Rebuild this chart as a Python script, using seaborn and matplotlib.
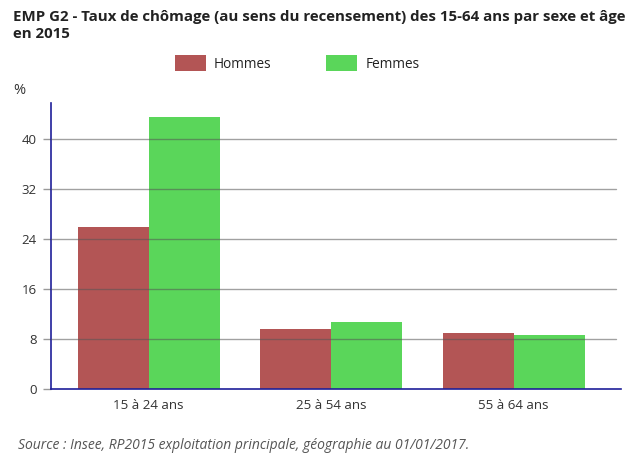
import matplotlib
matplotlib.use("Agg")
import matplotlib.pyplot as plt
import seaborn as sns
import pandas as pd

categories = ["15 à 24 ans", "25 à 54 ans", "55 à 64 ans"]
hommes = [26.0, 9.6, 9.0]
femmes = [43.6, 10.7, 8.6]
series_names = ["Hommes", "Femmes"]
yticks = [0, 8, 16, 24, 32, 40]

df = pd.DataFrame({
    "age": categories * 2,
    "sexe": [series_names[0]] * 3 + [series_names[1]] * 3,
    "taux": hommes + femmes,
})

sns.set_theme(style="white")
plt.rcParams["font.family"] = ["Open Sans", "DejaVu Sans"]

navy = "#1f1f99"
colors = {"Hommes": "#b35555", "Femmes": "#5ad65a"}

fig = plt.figure(figsize=(6.34, 4.57), dpi=100)
ax = fig.add_axes([0.08, 0.1488, 0.899, 0.6265])

sns.barplot(data=df, x="age", y="taux", hue="sexe", palette=colors,
            width=0.78, ax=ax, saturation=1, errorbar=None, zorder=2,
            linewidth=0)

ax.set_xlim(-0.537, 2.586)
ax.set_ylim(0, 45.9)
ax.set_yticks(yticks)
ax.set_yticklabels([str(v) for v in yticks], fontsize=9.5, color="#333333")
ax.tick_params(axis="y", length=6, width=1, color="#999999", pad=4, left=True)
ax.tick_params(axis="x", length=0, pad=7, labelsize=9.6, labelcolor="#333333")
ax.set_xlabel("")
ax.set_ylabel("")

for v in yticks[1:]:
    ax.axhline(v, xmin=0, xmax=0.991, color="#555555", alpha=0.55, lw=1, zorder=3)

for s in ["top", "right"]:
    ax.spines[s].set_visible(False)
ax.spines["left"].set_color(navy)
ax.spines["bottom"].set_color(navy)
ax.spines["left"].set_linewidth(1.2)
ax.spines["bottom"].set_linewidth(1.2)

handles, labels = ax.get_legend_handles_labels()
ax.legend_.remove()
fig.legend(handles, labels, loc="center left", bbox_to_anchor=(0.256, 0.8615),
           ncol=2, frameon=False, fontsize=9.8, handlelength=2.28, handleheight=1.47,
           handletextpad=0.59, columnspacing=4.04, labelcolor="#222222")

fig.text(0.0205, 0.9547, "EMP G2 - Taux de chômage (au sens du recensement) des 15-64 ans par sexe et âge",
         fontsize=10.85, fontweight="bold", color="#222222", va="baseline", ha="left")
fig.text(0.0205, 0.9162, "en 2015",
         fontsize=10.85, fontweight="bold", color="#222222", va="baseline", ha="left")
fig.text(0.0205, 0.801, "%", fontsize=10.5, color="#333333", va="center", ha="left")
fig.text(0.028, 0.026, "Source : Insee, RP2015 exploitation principale, géographie au 01/01/2017.",
         fontsize=10, style="italic", color="#555555", va="center", ha="left")

fig.savefig("out.png", dpi=100)
